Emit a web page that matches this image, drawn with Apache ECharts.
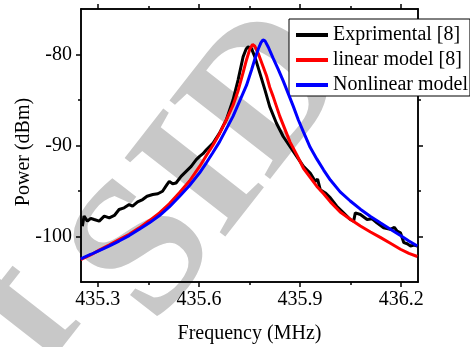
<!DOCTYPE html>
<html>
<head>
<meta charset="utf-8">
<script src="https://cdn.jsdelivr.net/npm/echarts@6/dist/echarts.min.js"></script>
<style>
html,body{margin:0;padding:0;background:#fff;}
#chart{width:470px;height:347px;}
</style>
</head>
<body>
<div id="chart"></div>
<script>
// ---- data ----
const seriesNames = ['Exprimental [8]', 'linear model [8]', 'Nonlinear model'];
const xTitle = 'Frequency (MHz)';
const yTitle = 'Power (dBm)';

const freqExp = [435.254,435.259,435.269,435.279,435.289,435.304,435.319,435.334,435.349,435.363,435.378,435.393,435.403,435.418,435.433,435.446,435.463,435.478,435.492,435.505,435.512,435.522,435.532,435.547,435.562,435.577,435.592,435.602,435.612,435.622,435.642,435.661,435.681,435.701,435.716,435.731,435.740,435.746,435.756,435.766,435.781,435.796,435.810,435.830,435.850,435.870,435.890,435.910,435.930,435.945,435.952,435.960,435.975,435.990,436.009,436.029,436.049,436.059,436.064,436.079,436.099,436.114,436.128,436.148,436.168,436.180,436.188,436.198,436.208,436.218,436.228,436.238,436.248];
const powExp  = [-98.86,-97.76,-98.31,-98.0,-98.13,-98.31,-97.76,-97.95,-97.69,-97.03,-96.85,-96.49,-96.67,-96.20,-95.94,-95.57,-95.39,-95.30,-95.03,-94.30,-93.94,-94.20,-94.12,-93.39,-92.84,-92.29,-91.56,-91.20,-90.90,-90.47,-89.74,-88.64,-87.19,-85.00,-82.81,-80.26,-79.40,-79.16,-79.35,-80.26,-82.08,-83.91,-85.73,-87.55,-89.01,-90.11,-91.20,-92.29,-93.02,-93.94,-93.70,-94.85,-95.21,-95.76,-96.67,-97.40,-98.13,-98.31,-97.40,-97.58,-98.13,-98.05,-98.49,-99.04,-99.22,-99.00,-99.40,-99.59,-100.68,-100.80,-101.04,-100.95,-101.04];

const freqLin = [435.249,435.280,435.304,435.333,435.363,435.393,435.423,435.453,435.483,435.512,435.542,435.572,435.602,435.622,435.641,435.661,435.681,435.701,435.716,435.731,435.741,435.751,435.759,435.766,435.776,435.790,435.801,435.810,435.820,435.840,435.870,435.890,435.910,435.930,435.950,435.970,435.990,436.019,436.049,436.079,436.109,436.138,436.168,436.198,436.223,436.248];
const powLin  = [-102.55,-102.0,-101.5,-100.95,-100.35,-99.75,-99.05,-98.25,-97.4,-96.4,-95.2,-93.9,-92.3,-91.1,-90.0,-88.7,-87.2,-85.6,-84.0,-82.0,-80.6,-79.4,-78.9,-79.1,-79.9,-81.3,-82.4,-83.6,-84.6,-86.8,-89.6,-91.0,-92.5,-93.5,-94.5,-95.3,-96.2,-97.3,-98.1,-98.85,-99.5,-100.1,-100.75,-101.4,-101.85,-102.2];

const freqNon = [435.249,435.280,435.304,435.333,435.363,435.393,435.423,435.453,435.483,435.512,435.542,435.572,435.602,435.622,435.641,435.661,435.681,435.701,435.721,435.741,435.756,435.766,435.776,435.784,435.790,435.796,435.806,435.820,435.835,435.850,435.865,435.880,435.895,435.910,435.930,435.950,435.970,435.990,436.019,436.049,436.079,436.109,436.138,436.168,436.198,436.223,436.248];
const powNon  = [-102.45,-101.95,-101.55,-101.05,-100.5,-99.9,-99.2,-98.5,-97.7,-96.75,-95.6,-94.4,-93.0,-91.9,-90.8,-89.6,-88.2,-86.8,-85.1,-83.4,-81.7,-80.5,-79.4,-78.7,-78.4,-78.5,-79.2,-80.4,-81.6,-82.9,-84.3,-85.7,-87.2,-88.5,-90.2,-91.5,-92.7,-93.8,-95.1,-96.1,-97.0,-97.8,-98.5,-99.2,-99.9,-100.5,-101.05];

const xTicks = [435.3, 435.6, 435.9, 436.2];
const xMinorTicks = [435.45, 435.75, 436.05];
const yTicks = [-100, -90, -80];
const yMinorTicks = [-95, -85];
const xRange = [435.25, 436.25];
const yRange = [-105, -75];

// ---- chart ----
const FONT = 'Liberation Serif';
const zip = (a, b) => a.map((v, i) => [v, b[i]]);
const axisLine = { show: true, lineStyle: { color: '#000', width: 1.5 } };

function xAx(pos, ticks, len, labels, extra) {
  return Object.assign({
    type: 'value', position: pos, min: xRange[0], max: xRange[1],
    axisLine: axisLine,
    axisTick: { show: true, inside: false, length: len, customValues: ticks, lineStyle: { color: '#000', width: 1.5 } },
    axisLabel: labels ? { show: true, customValues: ticks, margin: 8, color: '#000', fontFamily: FONT, fontSize: 20 } : { show: false },
    splitLine: { show: false }
  }, extra || {});
}
function yAx(pos, ticks, len, labels, extra) {
  return Object.assign({
    type: 'value', position: pos, min: yRange[0], max: yRange[1],
    axisLine: axisLine,
    axisTick: { show: true, inside: false, length: len, customValues: ticks, lineStyle: { color: '#000', width: 1.5 } },
    axisLabel: labels ? { show: true, customValues: ticks, margin: 9, color: '#000', fontFamily: FONT, fontSize: 20 } : { show: false },
    splitLine: { show: false }
  }, extra || {});
}

const chart = echarts.init(document.getElementById('chart'), null, { renderer: 'canvas' });
const colors = ['#000000', '#ff0000', '#0000ff'];
const datasets = [zip(freqExp, powExp), zip(freqLin, powLin), zip(freqNon, powNon)];

chart.setOption({
  animation: false,
  backgroundColor: '#fff',
  grid: { left: 81, right: 52, top: 9, bottom: 65, containLabel: false, outerBoundsMode: 'none' },
  graphic: [
    { type: 'text', z: -10, x: 215, y: 168, rotation: 52 * Math.PI / 180,
      style: { text: 'SID', font: 'bold 195px "Liberation Serif"', fill: '#c8c8c8', align: 'center', verticalAlign: 'middle' } },
    { type: 'text', z: -10, x: 26, y: 312, rotation: 52 * Math.PI / 180,
      style: { text: 'f', font: 'bold 195px "Liberation Serif"', fill: '#c8c8c8', align: 'center', verticalAlign: 'middle' } },
    { type: 'text', z: 10, x: 24, y: 152, rotation: Math.PI / 2,
      style: { text: yTitle, font: '20px "Liberation Serif"', fill: '#000', align: 'center', verticalAlign: 'middle' } }
  ],
  legend: {
    data: seriesNames.map((n, i) => ({ name: n, icon: 'rect', itemStyle: { color: colors[i] } })),
    orient: 'vertical', left: 289, top: 19,
    padding: [6, 2, 1, 7], itemGap: 5, itemWidth: 32, itemHeight: 4,
    backgroundColor: '#fff', borderColor: '#000', borderWidth: 1, borderRadius: 0,
    textStyle: { color: '#000', fontFamily: FONT, fontSize: 20, lineHeight: 20 }
  },
  xAxis: [
    xAx('bottom', xTicks, 5, true, { name: xTitle, nameLocation: 'middle', nameGap: 42,
      nameTextStyle: { color: '#000', fontFamily: FONT, fontSize: 20 } }),
    xAx('bottom', xMinorTicks, 3, false),
    xAx('top', xTicks, 5, false),
    xAx('top', xMinorTicks, 3, false)
  ],
  yAxis: [
    yAx('left', yTicks, 5, true),
    yAx('left', yMinorTicks, 3, false),
    yAx('right', yTicks, 5, false),
    yAx('right', yMinorTicks, 3, false)
  ],
  series: seriesNames.map((n, i) => ({
    name: n, type: 'line', xAxisIndex: 0, yAxisIndex: 0,
    data: datasets[i], showSymbol: false, symbol: 'none',
    lineStyle: { color: colors[i], width: 3 }, itemStyle: { color: colors[i] },
    z: 2 + i
  }))
});
</script>
</body>
</html>
